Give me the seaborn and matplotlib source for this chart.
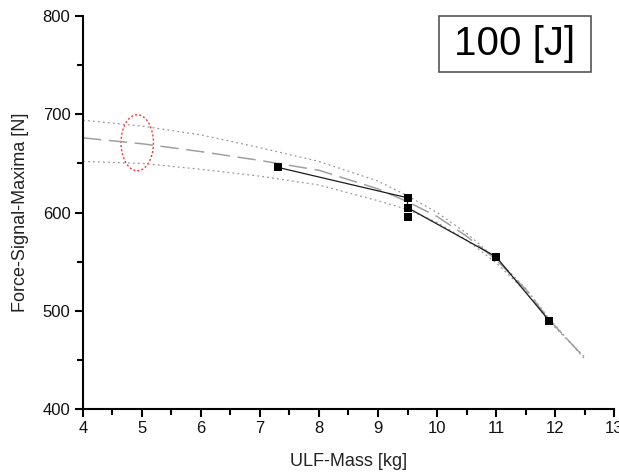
import matplotlib
matplotlib.use("Agg")
import matplotlib.pyplot as plt
from matplotlib.patches import Ellipse, Rectangle
from matplotlib.ticker import MultipleLocator
import seaborn as sns
import pandas as pd

# measured data points
mass = [7.3, 9.5, 9.5, 9.5, 11.0, 11.9]
force = [646, 615, 605, 595, 555, 490]

# connecting (solid) line
line_mass = [7.3, 9.5, 9.5, 11.0, 11.9]
line_force = [646, 615, 605, 555, 490]

# fit curve and confidence band
fit_x = [4, 5, 6, 7, 8, 9, 9.5, 10, 10.5, 11, 11.5, 11.9, 12.5]
fit_y = [676, 670, 662, 653, 643, 624, 611, 596, 576, 552, 522, 491, 452]
upper_y = [694, 688, 679, 666, 652, 632, 617, 600, 579, 553, 523, 492, 451]
lower_y = [652, 650, 644, 637, 628, 612, 603, 590, 572, 549, 520, 489, 453]

sns.set_theme(style="ticks")
plt.rcParams['font.family'] = ['Liberation Sans', 'DejaVu Sans']

fig = plt.figure(figsize=(6.19, 4.72), dpi=100)
ax = fig.add_axes([0.134, 0.1335, 0.858, 0.8325])

band = pd.DataFrame({"x": fit_x, "fit": fit_y, "up": upper_y, "lo": lower_y})
sns.lineplot(data=band, x="x", y="up", ax=ax, color="#9a9a9a", lw=0.9,
             linestyle=(0, (1.5, 2.5)))
sns.lineplot(data=band, x="x", y="lo", ax=ax, color="#9a9a9a", lw=0.9,
             linestyle=(0, (1.5, 2.5)))
sns.lineplot(data=band, x="x", y="fit", ax=ax, color="#a0a0a0", lw=1.1,
             linestyle=(0, (12, 5)))

ldf = pd.DataFrame({"x": line_mass, "y": line_force})
ax.plot(ldf["x"], ldf["y"], color="#1a1a1a", lw=0.9)

pdf = pd.DataFrame({"x": mass, "y": force})
sns.scatterplot(data=pdf, x="x", y="y", ax=ax, marker="s", s=34,
                color="black", edgecolor="black", linewidth=0, zorder=5)

ax.add_patch(Ellipse((4.92, 671), 0.55, 57, fill=False, edgecolor="#ff3333",
                     lw=1.0, linestyle=(0, (1.5, 1.5))))

ax.set_xlim(4, 13)
ax.set_ylim(400, 800)
ax.xaxis.set_major_locator(MultipleLocator(1))
ax.xaxis.set_minor_locator(MultipleLocator(0.5))
ax.yaxis.set_major_locator(MultipleLocator(100))
ax.yaxis.set_minor_locator(MultipleLocator(50))
ax.tick_params(which="major", direction="out", length=6, width=1.5,
               labelsize=12, color="black", labelcolor="#111111", pad=3)
ax.tick_params(which="minor", direction="out", length=4, width=1.5, color="black")
for s in ["left", "bottom"]:
    ax.spines[s].set_linewidth(1.5)
    ax.spines[s].set_color("black")
for s in ["top", "right"]:
    ax.spines[s].set_visible(False)

ax.set_xlabel("ULF-Mass [kg]", fontsize=13, labelpad=12, color="#222222")
ax.set_ylabel("Force-Signal-Maxima [N]", fontsize=13, labelpad=10, color="#222222")

ax.add_patch(Rectangle((0.670, 0.8575), 0.287, 0.1425, transform=ax.transAxes,
                       facecolor="white", edgecolor="#555555", lw=1.2,
                       clip_on=False, zorder=6))
ax.text(0.8135, 0.929, "100 [J]", transform=ax.transAxes, fontsize=29,
        ha="center", va="center", color="black", zorder=7)

fig.savefig("out.png", dpi=100)
